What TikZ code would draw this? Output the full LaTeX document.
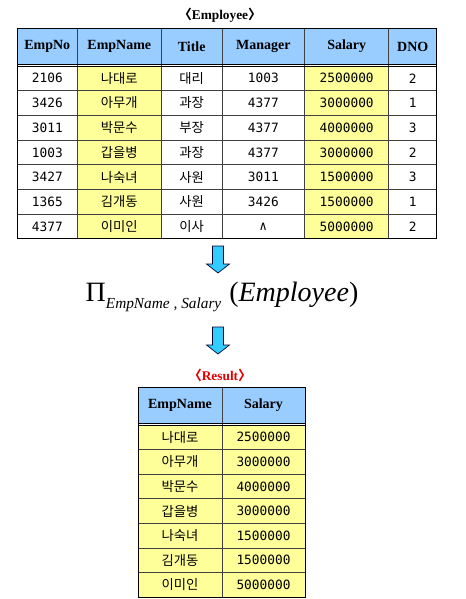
\documentclass[tikz,border=0pt]{standalone}
\usepackage{fontspec}
\setmainfont{Liberation Serif}
\newfontfamily\krfont{Noto Sans CJK KR}
\newfontfamily\numfont{DejaVu Sans Mono}
\definecolor{headblue}{HTML}{99CCFF}
\definecolor{cellyellow}{HTML}{FFFF99}
\definecolor{arrowblue}{HTML}{33CCFF}
\usetikzlibrary{positioning}
\tikzset{
  colhead/.style={font=\fontsize{10.5}{12}\selectfont\bfseries},
  numcell/.style={font=\fontsize{9.6}{11}\selectfont\numfont},
  krcell/.style={font=\fontsize{10}{11}\selectfont\krfont},
  tabtitle/.style={font=\fontsize{10}{11}\selectfont\bfseries},
  gridline/.style={line width=0.6pt, black!75},
  frameline/.style={line width=0.7pt, black},
  blockarrow/.pic={
    \draw[fill=arrowblue, draw=black!80!blue, line width=0.5pt]
      (-5.5,0) -- (5.5,0) -- (5.5,18) -- (11.5,18) -- (0,27)
      -- (-11.5,18) -- (-5.5,18) -- cycle;
  }
}
\begin{document}
\begin{tikzpicture}[x=0.75pt, y=-0.75pt]
\useasboundingbox[fill=white] (0,0) rectangle (466,599);

% Employee table
\node[tabtitle] (emptitle) at (220,15) {{\krfont 〈}Employee{\krfont 〉}};
\fill[headblue] (17.3,28.3) rectangle (436.7,64);
\fill[cellyellow] (77.3,66) rectangle (161.3,238.7);
\fill[cellyellow] (304.7,66) rectangle (388.7,238.7);
\foreach \y in {90.7,115.3,140,164.7,189.3,214}
  \draw[gridline] (17.3,\y) -- (436.7,\y);
\foreach \x in {77.3,161.3,222,304.7,388.7}
  \draw[gridline] (\x,28.3) -- (\x,238.7);
\draw[frameline] (17.3,64) -- (436.7,64);
\draw[frameline] (17.3,66) -- (436.7,66);
\draw[frameline] (17.3,28.3) rectangle (436.7,238.7);
\foreach \t/\x [count=\c] in {EmpNo/47.3,EmpName/119.3,Title/191.7,Manager/263.3,Salary/346.7,DNO/412.7}
  \node[colhead] (emp-h\c) at (\x,46.5) {\t};
\foreach \no/\name/\title/\mgr/\sal/\dno [count=\r] in {
    2106/나대로/대리/1003/2500000/2,
    3426/아무개/과장/4377/3000000/1,
    3011/박문수/부장/4377/4000000/3,
    1003/갑을병/과장/4377/3000000/2,
    3427/나숙녀/사원/3011/1500000/3,
    1365/김개동/사원/3426/1500000/1,
    4377/이미인/이사/∧/5000000/2}
{
  \pgfmathsetmacro\ry{66+(\r-0.5)*24.67}
  \node[numcell] (emp-\r-1) at (47.3,\ry) {\no};
  \node[krcell]  (emp-\r-2) at (119.3,\ry) {\name};
  \node[krcell]  (emp-\r-3) at (191.7,\ry) {\title};
  \node[numcell] (emp-\r-4) at (263.3,\ry) {\mgr};
  \node[numcell] (emp-\r-5) at (346.7,\ry) {\sal};
  \node[numcell] (emp-\r-6) at (412.7,\ry) {\dno};
}

% projection
\pic at (218,246) {blockarrow};
\node[font=\fontsize{21}{24}\selectfont] (proj) at (222,297)
  {Π\raisebox{-5pt}{\fontsize{11.5}{13}\selectfont\itshape EmpName , Salary}\hspace{6pt}(\textit{Employee})};
\pic at (218,327) {blockarrow};

% Result table
\node[tabtitle, red!90!black] (restitle) at (220,375) {{\krfont 〈}Result{\krfont 〉}};
\fill[headblue] (138,387) rectangle (305,423);
\fill[cellyellow] (138,425) rectangle (305,597);
\foreach \y in {449.6,474.1,498.7,523.3,547.9,572.4}
  \draw[gridline] (138,\y) -- (305,\y);
\draw[gridline] (222,387) -- (222,597);
\draw[frameline] (138,423) -- (305,423);
\draw[frameline] (138,425) -- (305,425);
\draw[frameline] (138,387) rectangle (305,597);
\node[colhead] (res-h1) at (180,405.5) {EmpName};
\node[colhead] (res-h2) at (263.5,405.5) {Salary};
\foreach \name/\sal [count=\r] in {나대로/2500000,아무개/3000000,박문수/4000000,
    갑을병/3000000,나숙녀/1500000,김개동/1500000,이미인/5000000}
{
  \pgfmathsetmacro\ry{425+(\r-0.5)*24.57}
  \node[krcell]  (res-\r-1) at (180,\ry) {\name};
  \node[numcell] (res-\r-2) at (263.5,\ry) {\sal};
}
\end{tikzpicture}
\end{document}
